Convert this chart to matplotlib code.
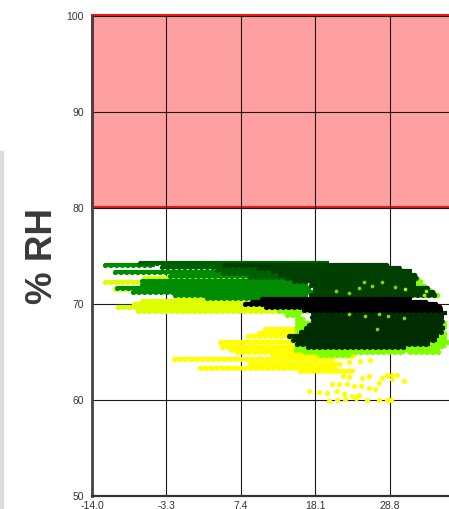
# humidity vs temperature scatter with the red limit zone on top
import matplotlib
matplotlib.use('Agg')
import matplotlib.pyplot as plt
from matplotlib.patches import Rectangle

plt.rcParams['font.family'] = ['Liberation Sans', 'DejaVu Sans']

x_ticks = [-14.0, -3.3, 7.4, 18.1, 28.8]
y_ticks = [50, 60, 70, 80, 90, 100]
x_labels = ['-14.0', '-3.3', '7.4', '18.1', '28.8']
zone_low = 80
zone_high = 100

# streaks of overlapping readings: rh, temperature from, temperature to
yellow_rh = [67.3, 66.9, 66.6, 66.0, 65.5, 65.2, 64.9, 64.55, 64.2, 63.7, 63.3, 62.95]
yellow_from = [10.8, 10.0, 8.4, 4.4, 4.7, 6.0, 6.8, 12.0, -2.2, 8.7, 1.5, 15.9]
yellow_to = [16.2, 16.5, 17.3, 18.7, 20.2, 21.5, 22.9, 24.0, 20.9, 21.6, 20.9, 23.8]

yellow_pts_t = [28.4, 29.1, 29.85, 27.7, 29.1, 30.8, 25.8, 22.0, 22.9, 20.5, 21.5, 22.7, 23.6, 25.8, 27.2, 24.6, 17.2,
                18.6, 19.8, 21.2, 22.2, 23.4, 24.3, 20.0, 21.2, 22.4, 23.9, 25.5, 27.2, 28.4, 28.9, 26.7, 24.8, 23.0,
                24.5, 25.9]
yellow_pts_rh = [62.6, 62.6, 62.6, 62.2, 62.1, 61.9, 62.4, 62.4, 62.3, 61.6, 61.6, 61.6, 61.4, 61.2, 61.7, 61.4, 60.9,
                 60.8, 60.7, 60.9, 60.6, 60.35, 60.5, 59.8, 60.0, 60.1, 60.2, 60.0, 59.9, 59.9, 59.9, 61.1, 62.25, 63.9,
                 64.0, 64.1]

lime_rh = [72.65, 72.2, 71.5, 70.6, 70.25, 69.95, 69.6, 69.2]
lime_from = [-6.5, -12.1, -10.7, -2.0, -6.8, -8.0, -10.3, -7.4]
lime_to = [14.5, -4.0, -8.0, 14.0, 16.0, 16.5, 17.0, 15.5]

chart_rh = [72.6, 72.2, 71.8, 71.4, 70.9, 69.6, 69.2, 68.8, 68.4, 68.0, 67.6, 67.2, 66.8, 66.4, 66.0, 65.6, 65.2, 64.9,
            64.9, 64.6]
chart_from = [24.0, 20.0, 20.0, 20.0, 30.0, 12.3, 12.9, 14.0, 15.5, 15.5, 15.5, 15.5, 15.5, 14.7, 15.3, 15.3, 15.3,
              16.6, 31.7, 18.7]
chart_to = [33.0, 33.5, 34.0, 34.6, 35.8, 19.0, 17.6, 16.0, 16.5, 37.0, 37.0, 36.7, 37.0, 37.0, 37.2, 36.8, 36.0, 31.0,
            36.0, 23.0]

green_rh = [74.05, 73.3, 72.9, 72.3, 71.95, 71.6, 71.25, 70.9, 70.55]
green_from = [-12.1, -10.7, -2.8, -6.8, -6.8, -10.4, -8.1, -2.1, 2.5]
green_to = [-5.0, 7.3, 13.0, 16.0, 17.0, 17.5, 18.0, 17.0, 15.0]

mid_rh = [74.2, 73.85, 73.5, 73.15, 72.8]
mid_from = [-7.1, -4.0, 4.0, 4.8, 8.7]
mid_to = [20.0, 16.0, 14.0, 15.0, 16.0]

dark_rh = [74.05, 73.7, 73.35, 73.0, 72.65, 72.3, 71.95, 71.6, 71.25, 70.9]
dark_from = [5.0, 10.0, 12.0, 13.0, 14.0, 15.0, 17.5, 18.0, 18.0, 17.5]
dark_to = [28.4, 30.4, 32.0, 32.6, 32.7, 32.6, 32.5, 34.4, 35.0, 35.5]

low_rh = [69.0, 68.6, 68.2, 67.8, 67.4, 67.0, 66.6, 66.2, 65.8, 65.5]
low_from = [17.8, 17.6, 17.8, 17.2, 16.8, 16.0, 14.3, 14.9, 15.4, 17.0]
low_to = [37.0, 36.6, 36.4, 36.5, 36.7, 36.4, 35.8, 35.6, 34.6, 31.0]

black_rh = [70.5, 70.2, 69.9, 69.6, 69.3]
black_from = [10.5, 9.0, 8.0, 11.0, 16.5]
black_to = [32.0, 34.0, 35.6, 36.0, 36.4]

# bits of lighter colour showing through the dark clouds
speck_t = [27.7, 26.3, 25.1, 22.9, 21.0, 27.2, 25.3, 28.6, 30.8, 22.9, 27.0, 24.3, 29.5]
speck_rh = [72.2, 71.8, 72.2, 71.1, 71.3, 68.9, 68.7, 68.7, 68.5, 68.9, 67.3, 71.6, 71.7]
speck_hi_t = [31.0, 34.0, 33.7]
speck_hi_rh = [71.5, 71.3, 70.9]


def draw_streaks(ax, rh, t_from, t_to, color):
    # round dots along each row, a solid core keeps the row closed
    ax.hlines(rh, t_from, t_to, colors=color, linewidth=3.0, zorder=3)
    ax.hlines(rh, t_from, t_to, colors=color, linewidth=3.8, linestyles=(0, (0.01, 1.05)), capstyle='round', zorder=3)


fig = plt.figure(figsize=(4.49, 5.10), dpi=100)
fig.patches.append(Rectangle((0, 0), 3 / 449, 358 / 510, transform=fig.transFigure, color='#dcdcdc'))
ax = fig.add_axes([92 / 449, 13.5 / 510, 357 / 449, 480 / 510])

ax.add_patch(Rectangle((-14.0, zone_low), 60, zone_high - zone_low, facecolor='#ffa0a0', edgecolor='#e81818',
                       linewidth=2.2, zorder=1, clip_on=False))
ax.set_xlim(-14.0, 37.3)
ax.set_ylim(50, 100)
ax.set_xticks(x_ticks)
ax.set_xticklabels(x_labels, fontsize=7.5, color='#333333')
ax.set_yticks(y_ticks)
ax.tick_params(axis='y', labelsize=7.5, labelcolor='#333333', length=0, pad=6)
ax.tick_params(axis='x', length=0, pad=3)
ax.set_axisbelow('line')
ax.grid(True, color='#1a1a1a', linewidth=0.8)

draw_streaks(ax, yellow_rh, yellow_from, yellow_to, '#ffff00')
ax.scatter(yellow_pts_t, yellow_pts_rh, s=14, color='#ffff00', linewidths=0, zorder=3)
draw_streaks(ax, lime_rh, lime_from, lime_to, '#ddff00')
draw_streaks(ax, chart_rh, chart_from, chart_to, '#80ff00')
draw_streaks(ax, green_rh, green_from, green_to, '#008c00')
draw_streaks(ax, mid_rh, mid_from, mid_to, '#006000')
draw_streaks(ax, dark_rh, dark_from, dark_to, '#003f00')
draw_streaks(ax, low_rh, low_from, low_to, '#002c00')
draw_streaks(ax, black_rh, black_from, black_to, '#000000')
ax.scatter(speck_t, speck_rh, s=7, color='#70e000', linewidths=0, zorder=4)
ax.scatter(speck_hi_t, speck_hi_rh, s=7, color='#90ff00', linewidths=0, zorder=4)

for side in ['top', 'right']:
    ax.spines[side].set_visible(False)
ax.spines['left'].set_linewidth(2)
ax.spines['left'].set_color('#444444')
ax.spines['bottom'].set_linewidth(1.6)
ax.spines['bottom'].set_color('#333333')

fig.text(42 / 449, 1 - 256 / 510, '% RH', rotation=90, fontsize=26.5, fontweight='bold', color='#3a3a3a',
         ha='center', va='center')

fig.savefig('out.png', dpi=100)
